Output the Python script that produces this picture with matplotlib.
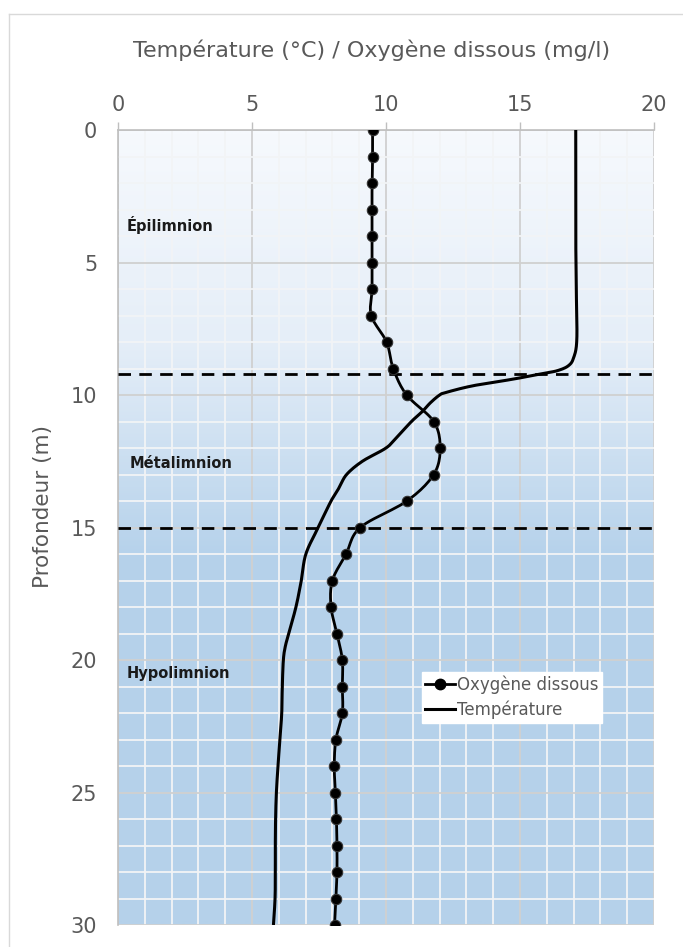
import numpy as np
import matplotlib
matplotlib.use("Agg")
import matplotlib.pyplot as plt
from matplotlib.colors import LinearSegmentedColormap
from matplotlib.lines import Line2D

# ---------------- data ----------------
oxy_depth = list(range(0, 31))
oxy_values = [9.5, 9.5, 9.48, 9.48, 9.48, 9.48, 9.48, 9.45, 10.02, 10.27,
              10.77, 11.78, 12.02, 11.78, 10.78, 9.04, 8.51, 8.0, 7.95, 8.17,
              8.37, 8.37, 8.37, 8.13, 8.07, 8.11, 8.15, 8.17, 8.17, 8.13, 8.08]

temp_depth = [0, 2, 4, 6, 7.9, 8.6, 8.9, 9.08, 9.18, 9.4, 9.65, 9.9, 10.0,
              10.3, 10.6, 11.0, 11.6, 12.0, 12.5, 13.0, 13.5, 14.0, 15.0, 16.0,
              17.0, 18.0, 19.0, 19.5, 20.0, 21.0, 22.0, 23.0, 24.0, 25.0, 26.0,
              27.0, 28.0, 29.0, 30.0]
temp_values = [17.08, 17.08, 17.08, 17.1, 17.12, 17.0, 16.8, 16.4, 15.9, 14.75,
               13.25, 12.25, 12.0, 11.65, 11.38, 10.95, 10.4, 10.0, 9.12, 8.53,
               8.25, 7.95, 7.47, 7.01, 6.84, 6.64, 6.37, 6.24, 6.17, 6.13,
               6.11, 6.04, 5.97, 5.91, 5.88, 5.87, 5.87, 5.86, 5.8]

layer_bounds = [9.2, 15]
layer_names = ["Épilimnion", "Métalimnion", "Hypolimnion"]
layer_label_depth = [3.6, 12.6, 20.5]
layer_label_x = [0.34, 0.45, 0.34]

x_ticks = [0, 5, 10, 15, 20]
y_ticks = [0, 5, 10, 15, 20, 25, 30]
x_title = "Température (°C) / Oxygène dissous (mg/l)"
y_title = "Profondeur (m)"
series_names = ["Oxygène dissous", "Température"]


def smooth(x, y, n=12):
    """Catmull-Rom rendering of a polyline (like Excel smoothed lines)."""
    P = np.column_stack([x, y]).astype(float)
    P = np.vstack([2 * P[0] - P[1], P, 2 * P[-1] - P[-2]])
    out = []
    t = np.linspace(0, 1, n, endpoint=False)[:, None]
    for i in range(1, len(P) - 2):
        p0, p1, p2, p3 = P[i - 1], P[i], P[i + 1], P[i + 2]
        seg = 0.5 * ((2 * p1) + (-p0 + p2) * t + (2 * p0 - 5 * p1 + 4 * p2 - p3) * t ** 2
                     + (-p0 + 3 * p1 - 3 * p2 + p3) * t ** 3)
        out.append(seg)
    out.append(P[-2][None, :])
    out = np.vstack(out)
    return out[:, 0], out[:, 1]


plt.rcParams['font.family'] = ['DejaVu Sans']
GRAY = "#595959"

fig = plt.figure(figsize=(6.83, 9.47), dpi=100)
ax = fig.add_axes([118 / 683, 1 - 925 / 947, (654 - 118) / 683, (925 - 130) / 947])

# gradient background
cmap = LinearSegmentedColormap.from_list(
    "bg", [(0.0, "#f6f9fd"), (8 / 30, "#e5eef8"), (16 / 30, "#b6d2eb"), (1.0, "#b5d1ea")])
grad = np.linspace(0, 1, 300)[:, None]
ax.imshow(grad, cmap=cmap, extent=[0, 20, 30, 0], aspect="auto", zorder=0,
          interpolation="bilinear")

ax.set_xlim(0, 20)
ax.set_ylim(30, 0)
ax.xaxis.set_ticks_position("top")
ax.xaxis.set_label_position("top")
ax.set_xticks(x_ticks)
ax.set_yticks(y_ticks)
ax.set_xticks(np.arange(0, 21, 1), minor=True)
ax.set_yticks(np.arange(0, 31, 1), minor=True)
ax.grid(which="minor", color="#f2f4f6", lw=1.3, zorder=1)
ax.grid(which="major", color="#d0d0d0", lw=1.3, zorder=1.1)
ax.set_axisbelow(True)

ax.tick_params(axis="x", which="major", direction="out", length=6, width=1,
               color="#bfbfbf", labelsize=15, labelcolor=GRAY, pad=5)
ax.tick_params(axis="y", which="major", length=0, labelsize=15, labelcolor=GRAY, pad=15)
ax.tick_params(which="minor", length=0)

for s in ["bottom", "right"]:
    ax.spines[s].set_visible(False)
for s in ["top", "left"]:
    ax.spines[s].set_color("#bfbfbf")
    ax.spines[s].set_linewidth(1.2)

ax.set_xlabel(x_title, fontsize=16, color=GRAY)
ax.xaxis.set_label_coords((372 - 118) / 536, 1 + (130 - 57) / 795)
ax.set_ylabel(y_title, fontsize=15.5, color=GRAY)
ax.yaxis.set_label_coords((53 - 118) / 536, 0.527)

# layer boundaries
for b in layer_bounds:
    ax.axhline(b, color="black", lw=2, ls=(0, (4.5, 3)), zorder=3)

# temperature
tx, ty = smooth(temp_values, temp_depth)
ax.plot(tx, ty, color="black", lw=2.2, zorder=4, solid_capstyle="butt")

# oxygen
ox, oy = smooth(oxy_values, oxy_depth)
ax.plot(ox, oy, color="black", lw=2, zorder=5)
ax.plot(oxy_values, oxy_depth, ls="none", marker="o", ms=7.5, color="black",
        mec="#333333", mew=0.8, zorder=6)

for name, xd, yd in zip(layer_names, layer_label_x, layer_label_depth):
    ax.text(xd, yd, name, fontsize=10.5, fontweight="bold", color="#1a1a1a",
            va="center", ha="left", zorder=7)

handles = [Line2D([], [], color="black", lw=2, marker="o", ms=7.5),
           Line2D([], [], color="black", lw=2.2)]
leg = ax.legend(handles, series_names, loc="upper left", bbox_to_anchor=(0.567, 0.318),
                frameon=True, fancybox=False, framealpha=1, edgecolor="white",
                facecolor="white", fontsize=12, handlelength=1.8, handletextpad=0.1,
                borderpad=0.2, labelspacing=0.4, borderaxespad=0)
for t in leg.get_texts():
    t.set_color(GRAY)
leg.set_zorder(8)

# chart border
fig.add_artist(Line2D([9 / 683, 1.0], [1 - 14 / 947, 1 - 14 / 947], color="#d9d9d9", lw=1))
fig.add_artist(Line2D([9 / 683, 9 / 683], [0, 1 - 14 / 947], color="#d9d9d9", lw=1))

fig.savefig("out.png", dpi=100)
